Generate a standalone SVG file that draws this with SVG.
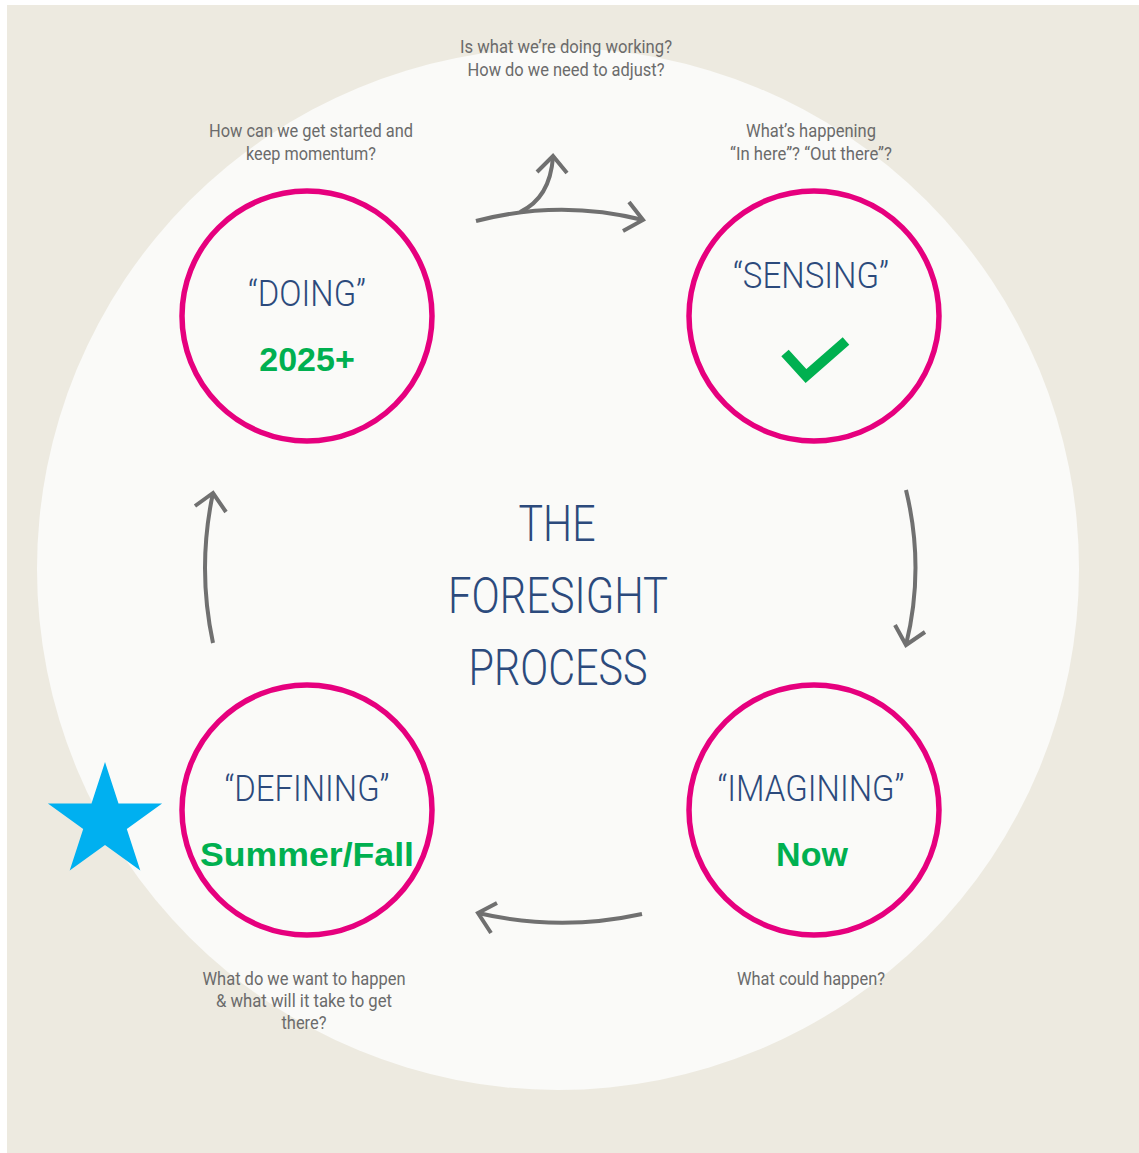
<svg xmlns="http://www.w3.org/2000/svg" width="1139" height="1153" viewBox="0 0 1139 1153">
<defs>
<style>
.q{font-family:Roboto,"Noto Sans",sans-serif;font-size:18px;fill:#6b6b6b;text-anchor:middle}
.t{font-family:Roboto,"Noto Sans",sans-serif;font-size:37px;fill:#2c4a7c;text-anchor:middle;font-weight:300}
.h{font-family:Roboto,"Noto Sans",sans-serif;font-size:50px;fill:#2c4a7c;text-anchor:middle;font-weight:300}
.g{font-family:"Liberation Sans",Arial,sans-serif;font-size:34px;font-weight:bold;fill:#00b050;text-anchor:middle}
.ring{fill:none;stroke:#e6007e;stroke-width:5.5}
.arr{fill:none;stroke:#707070;stroke-width:4;stroke-linecap:butt;stroke-linejoin:miter}
</style>
</defs>
<rect x="0" y="0" width="1139" height="1153" fill="#ffffff"/>
<rect x="7" y="5" width="1132" height="1148" fill="#edeae0"/>
<circle cx="558" cy="569" r="521" fill="#fafaf8"/>

<g id="connectors">
<path class="arr" d="M476,221 Q560,199 643,220"/>
<path class="arr" d="M629,202 L643,220 L623,231"/>
<path class="arr" d="M520,212 Q550,198 553,157"/>
<path class="arr" d="M537,172 L553,156 L567,173"/>
<path class="arr" d="M906,490 Q925,568 906,645"/>
<path class="arr" d="M895,625 L906,645 L925,632"/>
<path class="arr" d="M642,914 Q560,932 478,913"/>
<path class="arr" d="M497,903 L478,913 L491,933"/>
<path class="arr" d="M213,643 Q197,568 213,493"/>
<path class="arr" d="M195,506 L213,493 L226,512"/>
</g>

<g id="doing">
<circle class="ring" cx="307" cy="316" r="125"/>
<text class="t" x="307" y="306" textLength="118" lengthAdjust="spacingAndGlyphs">“DOING”</text>
<text class="g" x="307" y="371">2025+</text>
</g>
<g id="sensing">
<circle class="ring" cx="814" cy="316" r="125"/>
<text class="t" x="811" y="288" textLength="156" lengthAdjust="spacingAndGlyphs">“SENSING”</text>
<polyline points="785,353 806,376 846,341" fill="none" stroke="#00b050" stroke-width="10"/>
</g>
<g id="imagining">
<circle class="ring" cx="814" cy="810" r="125"/>
<text class="t" x="811" y="801" textLength="187" lengthAdjust="spacingAndGlyphs">“IMAGINING”</text>
<text class="g" x="812" y="866">Now</text>
</g>
<g id="defining">
<circle class="ring" cx="307" cy="810" r="125"/>
<text class="t" x="307" y="801" textLength="165" lengthAdjust="spacingAndGlyphs">“DEFINING”</text>
<text class="g" x="307" y="866" textLength="214" lengthAdjust="spacingAndGlyphs">Summer/Fall</text>
</g>

<g id="title">
<text class="h" x="557" y="541" textLength="77" lengthAdjust="spacingAndGlyphs">THE</text>
<text class="h" x="558" y="613" textLength="220" lengthAdjust="spacingAndGlyphs">FORESIGHT</text>
<text class="h" x="558" y="685" textLength="179" lengthAdjust="spacingAndGlyphs">PROCESS</text>
</g>

<g id="star">
<polygon fill="#00b0f0" points="105,762 118.5,803.5 162.1,803.5 126.8,829.1 140.3,870.6 105,845 69.7,870.6 83.2,829.1 47.9,803.5 91.5,803.5"/>
</g>

<g id="questions">
<text class="q" x="566" y="53" textLength="212" lengthAdjust="spacingAndGlyphs">Is what we’re doing working?</text>
<text class="q" x="566" y="76" textLength="197" lengthAdjust="spacingAndGlyphs">How do we need to adjust?</text>
<text class="q" x="311" y="137" textLength="204" lengthAdjust="spacingAndGlyphs">How can we get started and</text>
<text class="q" x="311" y="160" textLength="130" lengthAdjust="spacingAndGlyphs">keep momentum?</text>
<text class="q" x="811" y="137" textLength="130" lengthAdjust="spacingAndGlyphs">What’s happening</text>
<text class="q" x="811" y="160" textLength="162" lengthAdjust="spacingAndGlyphs">“In here”? “Out there”?</text>
<text class="q" x="304" y="985" textLength="203" lengthAdjust="spacingAndGlyphs">What do we want to happen</text>
<text class="q" x="304" y="1007" textLength="176" lengthAdjust="spacingAndGlyphs">&amp; what will it take to get</text>
<text class="q" x="304" y="1029" textLength="45" lengthAdjust="spacingAndGlyphs">there?</text>
<text class="q" x="811" y="985" textLength="148" lengthAdjust="spacingAndGlyphs">What could happen?</text>
</g>
</svg>
